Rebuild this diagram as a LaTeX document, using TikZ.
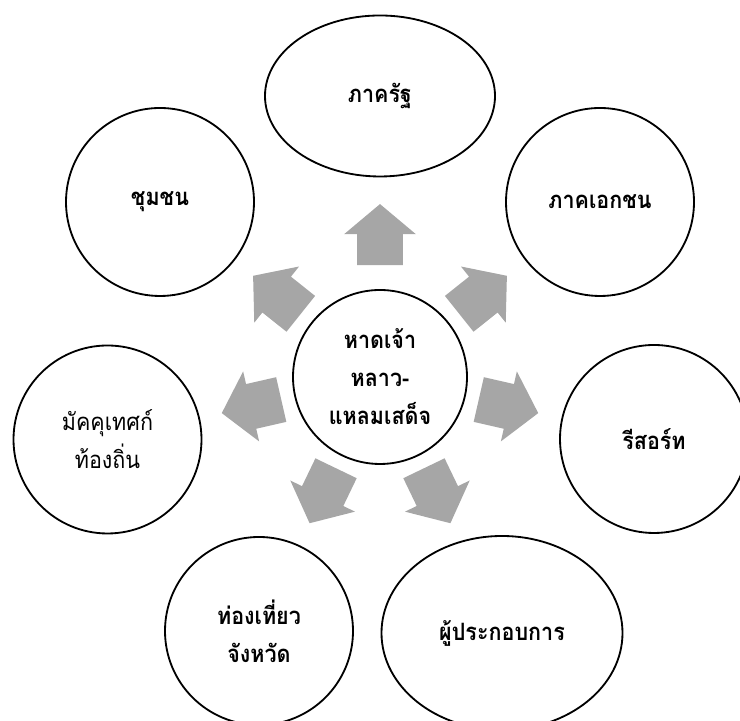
\documentclass[tikz,border=0pt]{standalone}
\usepackage{fontspec}
\newfontfamily\thaifont[Script=Thai,FakeStretch=0.9]{Loma}
\usepackage{tikz}
\usetikzlibrary{shapes.geometric,shapes.arrows,positioning}
\definecolor{arrowgray}{RGB}{166,166,166}

\begin{document}
\begin{tikzpicture}[line width=1.3pt, font=\thaifont\fontsize{17}{27}\selectfont]
   \useasboundingbox (0,0) rectangle (18.5,18.025);
   \begin{scope}[every node/.style={circle,draw=black,minimum size=4.7cm,align=center,font=\thaifont\bfseries\fontsize{17}{27}\selectfont}]
    \node (hub) [minimum size=4.35cm] at (9.5,8.6) {หาดเจ้า\\หลาว-\\แหลมเสด็จ};
    \node (state) [ellipse,minimum width=5.75cm,minimum height=4.025cm] at (9.5,15.625) {ภาครัฐ};
    \node (private) at (15.0,12.975) {ภาคเอกชน};
    \node (resort) at (16.35,7.05) {รีสอร์ท};
    \node (operator) [ellipse,minimum width=6.025cm,minimum height=4.85cm] at (12.55,2.2) {ผู้ประกอบการ};
    \node (province) at (6.475,2.25) {ท่องเที่ยว\\จังหวัด};
    \node (guide) [font=\thaifont\fontsize{17}{27}\selectfont] at (2.6875,7.0375) {มัคคุเทศก์\\ท้องถิ่น};
    \node (community) at (4.0,12.975) {ชุมชน};
   \end{scope}
   % block arrows pointing out from the hub
   \begin{scope}[shift={(9.5,8.6)}, every node/.style={single arrow,fill=arrowgray,inner xsep=0pt,inner ysep=0.55cm,anchor=tail,minimum height=1.525cm,single arrow head extend=0.325cm,single arrow tip angle=100}]
    \node (toState) [rotate=90] at (90:2.775) {};
    \node (toPrivate) [rotate=38.57] at (38.57:2.51) {};
    \node (toResort) [rotate=-12.86] at (-12.86:2.51) {};
    \node (toOperator) [rotate=-64.29] at (-64.29:2.51) {};
    \node (toProvince) [rotate=-115.71] at (-115.71:2.51) {};
    \node (toGuide) [rotate=192.86] at (192.86:2.51) {};
    \node (toCommunity) [rotate=141.43] at (141.43:2.51) {};
   \end{scope}
\end{tikzpicture}
\end{document}
